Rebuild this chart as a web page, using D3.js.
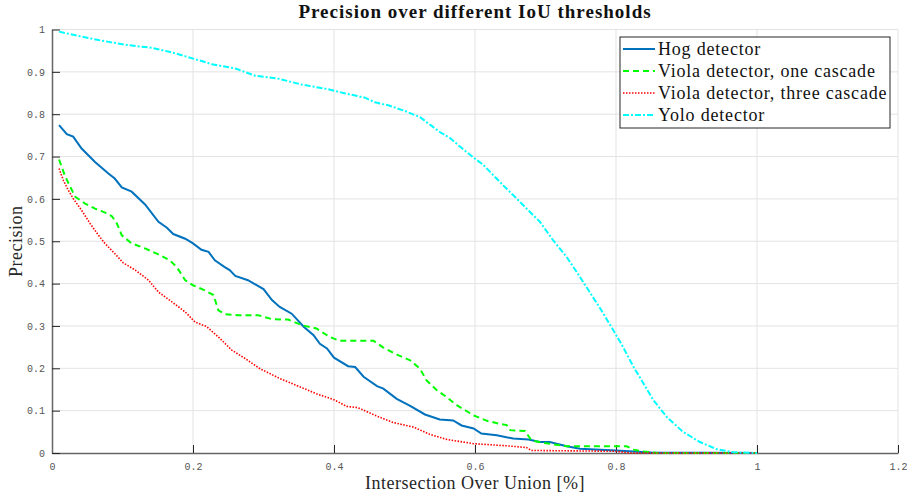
<!DOCTYPE html>
<html>
<head>
<meta charset="utf-8">
<script src="https://cdn.jsdelivr.net/npm/d3@7"></script>
<style>
  body { margin: 0; background: #fff; }
  svg text { font-family: "Liberation Serif", "DejaVu Serif", serif; }
  .tick text { font-family: "Liberation Mono", "DejaVu Sans Mono", monospace; font-size: 10px; fill: #555; }
</style>
</head>
<body>
<svg id="chart" width="910" height="495"></svg>
<script>
// values: [IoU threshold, precision]
const hog = [[0.01,0.774],[0.021,0.753],[0.03,0.747],[0.042,0.719],[0.061,0.687],[0.08,0.66],[0.089,0.648],[0.099,0.627],[0.113,0.617],[0.132,0.587],[0.151,0.546],[0.163,0.532],[0.172,0.517],[0.189,0.506],[0.2,0.495],[0.212,0.48],[0.222,0.475],[0.231,0.455],[0.245,0.439],[0.252,0.432],[0.26,0.418],[0.278,0.408],[0.3,0.387],[0.312,0.361],[0.323,0.345],[0.34,0.329],[0.357,0.298],[0.371,0.278],[0.38,0.258],[0.39,0.247],[0.4,0.225],[0.42,0.205],[0.43,0.203],[0.442,0.18],[0.461,0.158],[0.47,0.152],[0.489,0.128],[0.508,0.111],[0.529,0.091],[0.55,0.079],[0.569,0.077],[0.581,0.065],[0.598,0.058],[0.609,0.046],[0.631,0.042],[0.654,0.034],[0.676,0.032],[0.692,0.026],[0.706,0.026],[0.73,0.016],[0.749,0.01],[0.8,0.006],[0.85,0.001],[1.0,0]];

const violaOne = [[0.01,0.693],[0.018,0.656],[0.026,0.628],[0.033,0.605],[0.047,0.589],[0.061,0.577],[0.078,0.566],[0.085,0.559],[0.092,0.542],[0.099,0.514],[0.113,0.495],[0.132,0.483],[0.151,0.469],[0.167,0.455],[0.177,0.439],[0.189,0.408],[0.2,0.396],[0.217,0.384],[0.229,0.373],[0.236,0.337],[0.245,0.328],[0.264,0.325],[0.293,0.325],[0.312,0.316],[0.335,0.315],[0.354,0.302],[0.375,0.294],[0.394,0.274],[0.408,0.265],[0.456,0.265],[0.47,0.249],[0.491,0.231],[0.508,0.219],[0.522,0.199],[0.531,0.172],[0.546,0.148],[0.56,0.132],[0.574,0.113],[0.598,0.089],[0.617,0.076],[0.635,0.069],[0.645,0.066],[0.65,0.054],[0.671,0.052],[0.68,0.03],[0.697,0.024],[0.73,0.016],[0.815,0.016],[0.825,0.008],[0.836,0.004],[0.86,0],[1.0,0]];

const violaThree = [[0.01,0.672],[0.016,0.644],[0.023,0.621],[0.03,0.601],[0.042,0.573],[0.054,0.542],[0.066,0.514],[0.075,0.495],[0.089,0.471],[0.101,0.449],[0.118,0.432],[0.137,0.408],[0.151,0.38],[0.17,0.357],[0.189,0.333],[0.203,0.309],[0.219,0.299],[0.236,0.274],[0.255,0.243],[0.274,0.223],[0.295,0.199],[0.323,0.176],[0.352,0.156],[0.375,0.14],[0.401,0.125],[0.418,0.11],[0.434,0.107],[0.461,0.087],[0.484,0.072],[0.513,0.061],[0.536,0.044],[0.56,0.032],[0.598,0.022],[0.645,0.017],[0.673,0.013],[0.68,0.006],[0.8,0.004],[0.82,0],[1.0,0]];

const yolo = [[0.01,0.995],[0.037,0.985],[0.066,0.975],[0.108,0.963],[0.141,0.957],[0.17,0.946],[0.203,0.93],[0.227,0.918],[0.26,0.908],[0.288,0.891],[0.321,0.884],[0.354,0.87],[0.392,0.859],[0.416,0.849],[0.444,0.839],[0.458,0.828],[0.477,0.821],[0.5,0.808],[0.522,0.793],[0.55,0.758],[0.565,0.743],[0.579,0.723],[0.6,0.695],[0.612,0.68],[0.626,0.656],[0.64,0.632],[0.659,0.601],[0.678,0.569],[0.692,0.546],[0.711,0.502],[0.73,0.463],[0.744,0.428],[0.758,0.392],[0.777,0.343],[0.799,0.282],[0.81,0.25],[0.825,0.203],[0.839,0.164],[0.853,0.125],[0.872,0.085],[0.895,0.05],[0.919,0.026],[0.943,0.009],[0.966,0.002],[1.0,0]];

const seriesNames = ["Hog detector", "Viola detector, one cascade", "Viola detector, three cascade", "Yolo detector"];
const xTicks = [0, 0.2, 0.4, 0.6, 0.8, 1, 1.2];
const yTicks = [0, 0.1, 0.2, 0.3, 0.4, 0.5, 0.6, 0.7, 0.8, 0.9, 1];

const series = [
  {name: seriesNames[0], data: hog, color: "#0072BD", dash: null, w: 2},
  {name: seriesNames[1], data: violaOne, color: "#00FF00", dash: "6,4", w: 2},
  {name: seriesNames[2], data: violaThree, color: "#FF0000", dash: "1.5,1.5", w: 1.6},
  {name: seriesNames[3], data: yolo, color: "#00FFFF", dash: "6,2,2,2", w: 2}
];

const svg = d3.select("#chart");
const margin = {top: 29.5, right: 12, bottom: 42, left: 52};
const width = 910 - margin.left - margin.right,
      height = 495 - margin.top - margin.bottom;

const x = d3.scaleLinear().domain([0, 1.2]).range([0, width]);
const y = d3.scaleLinear().domain([0, 1]).range([height, 0]);

const g = svg.append("g").attr("transform", `translate(${margin.left},${margin.top})`);

// grid
g.append("g").selectAll("line").data(xTicks.slice(1)).enter().append("line")
  .attr("x1", d => x(d)).attr("x2", d => x(d)).attr("y1", 0).attr("y2", height)
  .attr("stroke", "#e3e3e3").attr("stroke-width", 1);
g.append("g").selectAll("line").data(yTicks.slice(1)).enter().append("line")
  .attr("x1", 0).attr("x2", width).attr("y1", d => y(d)).attr("y2", d => y(d))
  .attr("stroke", "#e3e3e3").attr("stroke-width", 1);

// axes, ticks pointing inward like matlab
const fmt = d => d === 0 || d === 1 ? d3.format("d")(d) : d3.format(".1f")(d);
const xAxis = g.append("g").attr("transform", `translate(0,${height})`)
  .call(d3.axisBottom(x).tickValues(xTicks).tickSizeInner(-8).tickSizeOuter(0).tickPadding(10).tickFormat(fmt));
const yAxis = g.append("g")
  .call(d3.axisLeft(y).tickValues(yTicks).tickSizeInner(-8).tickSizeOuter(0).tickPadding(7).tickFormat(fmt));
[xAxis, yAxis].forEach(a => {
  a.select(".domain").attr("stroke", "#666").attr("stroke-width", 1.5);
  a.selectAll(".tick line").attr("stroke", "#262626").attr("stroke-width", 1);
});

// curves
const line = d3.line().x(d => x(d[0])).y(d => y(d[1]));
g.selectAll(".curve").data(series).enter().append("path")
  .attr("class", "curve")
  .attr("d", d => line(d.data))
  .attr("fill", "none")
  .attr("stroke", d => d.color)
  .attr("stroke-width", d => d.w)
  .attr("stroke-dasharray", d => d.dash);

// title and labels
svg.append("text").attr("x", margin.left + width / 2).attr("y", 18)
  .attr("text-anchor", "middle").attr("font-weight", "bold").attr("font-size", "19px")
  .attr("letter-spacing", "1px")
  .attr("fill", "#111").text("Precision over different IoU thresholds");
svg.append("text").attr("x", margin.left + width / 2).attr("y", 489)
  .attr("text-anchor", "middle").attr("font-size", "18px").attr("fill", "#262626")
  .attr("letter-spacing", "0.5px")
  .text("Intersection Over Union [%]");
svg.append("text").attr("transform", `translate(22,${margin.top + height / 2}) rotate(-90)`)
  .attr("text-anchor", "middle").attr("font-size", "18px").attr("fill", "#262626")
  .attr("letter-spacing", "0.5px")
  .text("Precision");

// legend
const lg = svg.append("g").attr("transform", "translate(620,37)");
lg.append("rect").attr("width", 270).attr("height", 91)
  .attr("fill", "#fff").attr("stroke", "#262626").attr("stroke-width", 1);
const item = lg.selectAll(".item").data(series).enter().append("g")
  .attr("transform", (d, i) => `translate(0,${12 + i * 22})`);
item.append("line").attr("x1", 3).attr("x2", 35).attr("y1", 0).attr("y2", 0)
  .attr("stroke", d => d.color).attr("stroke-width", d => d.w)
  .attr("stroke-dasharray", d => d.dash);
item.append("text").attr("x", 38).attr("y", 6).attr("font-size", "18px").attr("fill", "#111")
  .attr("letter-spacing", "0.8px")
  .text(d => d.name);
</script>
</body>
</html>
